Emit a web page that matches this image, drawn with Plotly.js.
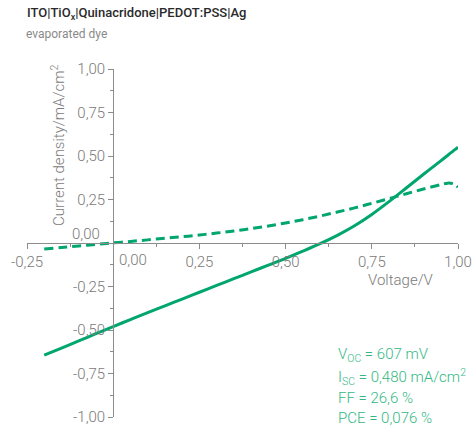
<!DOCTYPE html>
<html>
<head>
<meta charset="utf-8">
<script src="https://cdn.plot.ly/plotly-3.0.1.min.js"></script>
<style>html,body{margin:0;padding:0;background:#fff;}#chart{width:473px;height:428px;}</style>
</head>
<body>
<div id="chart"></div>
<script>
// Illuminated J-V curve (solid)
var voltageLight = [-0.20,-0.15,-0.10,-0.05,0.00,0.05,0.10,0.15,0.20,0.25,0.30,0.35,0.40,0.45,0.50,0.55,0.60,0.65,0.70,0.75,0.80,0.85,0.90,0.95,0.99,1.00];
var currentLight = [-0.645,-0.604,-0.563,-0.521,-0.480,-0.440,-0.400,-0.361,-0.322,-0.283,-0.244,-0.205,-0.166,-0.127,-0.088,-0.047,-0.004,0.044,0.099,0.164,0.238,0.316,0.395,0.472,0.535,0.550];
// Dark J-V curve (dashed)
var voltageDark = [-0.20,-0.15,-0.10,-0.05,0.00,0.05,0.10,0.15,0.20,0.25,0.30,0.35,0.40,0.45,0.50,0.55,0.60,0.65,0.70,0.75,0.80,0.85,0.90,0.95,0.97,0.99,1.00];
var currentDark = [-0.035,-0.026,-0.017,-0.008,0.001,0.009,0.018,0.027,0.036,0.046,0.057,0.069,0.083,0.098,0.115,0.134,0.155,0.178,0.202,0.228,0.255,0.283,0.310,0.335,0.344,0.338,0.320];

// Tick labels (the 0,00 labels are placed separately, offset from the crossing axes)
var xTickVals = [-0.25,0.25,0.50,0.75,1.00];
var xTickText = ['-0,25','0,25','0,50','0,75','1,00'];
var yTickVals = [-1.00,-0.75,-0.50,-0.25,0.25,0.50,0.75,1.00];
var yTickText = ['-1,00','-0,75','-0,50','-0,25','0,25','0,50','0,75','1,00'];
var statLines = ['V<sub>OC</sub> = 607 mV','I<sub>SC</sub> = 0,480 mA/cm<sup>2</sup>','FF = 26,6 %','PCE = 0,076 %'];

var green = '#00A66E';
var textGreen = '#33B883';
var axisGray = '#8c8c8c';
var labelGray = '#7a7a7a';
var fontFam = 'Roboto, "Liberation Sans Narrow", sans-serif';
var fs = 15;

var traces = [
  {x: voltageDark, y: currentDark, mode: 'lines', line: {color: green, width: 3, dash: '9px,5px', shape: 'spline', smoothing: 1}, hoverinfo: 'skip'},
  {x: voltageLight, y: currentLight, mode: 'lines', line: {color: green, width: 3, shape: 'spline', smoothing: 1}, hoverinfo: 'skip'}
];

var lightFont = {family: fontFam, size: fs, color: labelGray, weight: 300};

var annotations = [
  {xref: 'x', yref: 'y', x: 0.057, y: 0, yanchor: 'top', xanchor: 'center', yshift: -6, text: '0,00', showarrow: false, font: lightFont},
  {xref: 'x', yref: 'y', x: -0.033, y: 0.05, yanchor: 'middle', xanchor: 'right', text: '0,00', showarrow: false, font: lightFont},
  {xref: 'x', yref: 'y', x: -0.162, y: 0.56, textangle: -90, text: 'Current density/mA/cm<sup>2</sup>', showarrow: false, font: lightFont},
  {xref: 'x', yref: 'y', x: 0.835, y: -0.213, text: 'Voltage/V', showarrow: false, font: lightFont},
  {xref: 'paper', yref: 'paper', x: 0, xshift: -3, y: 1 + (69 - 34) / 348, xanchor: 'left', yanchor: 'middle', text: 'evaporated dye', showarrow: false, font: {family: fontFam, size: 12, color: '#8a8a8a'}}
];
var statY = [355, 377, 398, 418];
for (var i = 0; i < statLines.length; i++) {
  annotations.push({xref: 'paper', yref: 'paper', x: (338 - 27) / 431, xshift: -2, y: (417 - statY[i]) / 348, xanchor: 'left', yanchor: 'middle', text: statLines[i], showarrow: false, font: {family: fontFam, size: fs, color: textGreen, weight: 300}});
}

var layout = {
  width: 473, height: 428,
  margin: {l: 27, r: 15, t: 69, b: 11},
  paper_bgcolor: '#fff', plot_bgcolor: '#fff',
  showlegend: false,
  font: {family: fontFam, color: labelGray, size: fs},
  title: {
    text: 'ITO|TiO<sub>x</sub>|Quinacridone|PEDOT:PSS|Ag',
    font: {family: fontFam, size: 13, color: '#2a2a2a', weight: 500},
    x: 27 / 473, xanchor: 'left', xref: 'container',
    y: 1 - 8 / 428, yanchor: 'top', yref: 'container'
  },
  xaxis: {
    range: [-0.25, 1.0], anchor: 'free', position: 0.5,
    showline: true, linecolor: axisGray, linewidth: 1,
    showgrid: false, zeroline: false,
    ticks: 'outside', ticklen: 5, tickcolor: axisGray, tickwidth: 1,
    tickvals: xTickVals, ticktext: xTickText,
    tickfont: lightFont,
    minor: {dtick: 0.125, tick0: -0.25, ticks: 'outside', ticklen: 3, tickcolor: axisGray, showgrid: false},
    fixedrange: true
  },
  yaxis: {
    range: [-1.0, 1.0], anchor: 'free', position: 0.2,
    showline: true, linecolor: axisGray, linewidth: 1,
    showgrid: false, zeroline: false,
    ticks: 'outside', ticklen: 5, tickcolor: axisGray, tickwidth: 1,
    tickvals: yTickVals, ticktext: yTickText,
    tickfont: lightFont,
    minor: {dtick: 0.125, tick0: -1, ticks: 'outside', ticklen: 3, tickcolor: axisGray, showgrid: false},
    fixedrange: true
  },
  annotations: annotations
};

Plotly.newPlot('chart', traces, layout, {staticPlot: true, displayModeBar: false});
</script>
</body>
</html>
